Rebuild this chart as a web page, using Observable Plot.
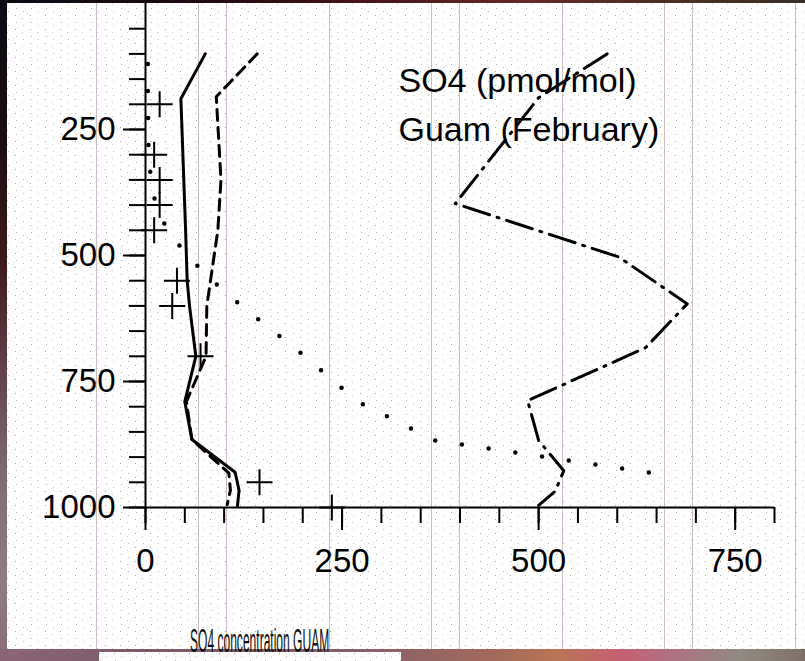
<!DOCTYPE html>
<html>
<head>
<meta charset="utf-8">
<script src="https://cdn.jsdelivr.net/npm/d3@7"></script>
<script src="https://cdn.jsdelivr.net/npm/@observablehq/plot@0.6"></script>
<style>
  html, body { margin: 0; padding: 0; background: #fff; }
  #frame {
    position: relative;
    width: 805px;
    height: 661px;
    overflow: hidden;
    background-color: #fff;
    font-family: "Liberation Sans", Arial, Helvetica, sans-serif;
  }
  .strip { position: absolute; }
  #stripTop {
    left: 0; top: 0; width: 805px; height: 3px;
    background: linear-gradient(to right, #0a0c14 0%, #1e0a10 25%, #461418 45%, #652a2a 65%, #4a3022 85%, #3a3028 100%);
  }
  #stripLeft {
    left: 0; top: 0; width: 7px; height: 661px;
    background: linear-gradient(to bottom, #0b0d14 0%, #1c0e12 22%, #3e1a1c 40%, #5e4048 55%, #7d6c72 72%, #8d7e84 88%, #8a6a78 100%);
  }
  #stripBottom {
    left: 0; top: 649px; width: 805px; height: 12px;
    background: linear-gradient(to right, #8b6576 0%, #7c5a6a 18%, #86606a 45%, #a46a5a 62%, #b87555 69%, #c65f70 77%, #b07082 83%, #918a82 92%, #7e7068 100%);
  }
  #patch { position: absolute; left: 99px; top: 652px; width: 302px; height: 9px; background-color: #fff; }
  #chart { position: absolute; left: 0; top: 0; }
  #caption {
    position: absolute;
    left: 190px;
    top: 624px;
    font-size: 33px;
    line-height: 33px;
    white-space: nowrap;
    color: #111;
    transform: scaleX(0.365);
    transform-origin: 0 0;
  }
</style>
</head>
<body>
<div id="frame">
  <div class="strip" id="stripTop"></div>
  <div class="strip" id="stripLeft"></div>
  <div class="strip" id="stripBottom"></div>
  <div id="patch"></div>
  <div id="chart"></div>
  <div id="caption">SO4 concentration GUAM</div>
</div>
<script>
// SO4 mixing ratio profiles over Guam in February (pmol/mol vs. pressure in hPa)
const solidP   = [100, 189, 450, 550, 600, 700, 790, 865, 930, 966, 996];
const solidV   = [76, 45, 51, 53, 56, 64, 50, 59, 114, 119, 117];

const dashedP  = [100, 185, 350, 450, 600, 700, 790, 865, 932, 966, 994];
const dashedV  = [142, 90, 96, 92, 78, 77, 52, 59, 106, 108, 104];

const dashDotP = [100, 187, 397, 503, 596, 683, 788, 867, 927, 968, 996];
const dashDotV = [587, 500, 394, 602, 689, 636, 486, 500, 532, 521, 500];

const dottedP  = [100, 190, 300, 350, 400, 450, 500, 550, 600, 690, 790, 867, 931];
const dottedV  = [3, 3, 4, 7, 13, 28, 53, 85, 122, 195, 270, 368, 643];

// Observations (crosses)
const obsP = [200, 300, 350, 400, 450, 550, 600, 700, 950, 1000];
const obsV = [18, 11, 18, 18, 11, 40, 34, 70, 145, 237];

// Axis ticks
const xMinorTicks = d3.range(0, 801, 50);
const xMajorTicks = [0, 250, 500, 750];
const yMinorTicks = d3.range(50, 1001, 50);
const yMajorTicks = [250, 500, 750, 1000];

const titleLines = ["SO4 (pmol/mol)", "Guam (February)"];

const rows = (P, V) => P.map((p, i) => ({p, v: V[i]}));

// "+" marker drawn as two strokes
const plusSymbol = {
  draw(context, size) {
    const r = Math.sqrt(size / Math.PI);
    context.moveTo(-r, 0); context.lineTo(r, 0);
    context.moveTo(0, -r); context.lineTo(0, r);
  }
};

// Speckled paper texture with faint vertical rules
const dotTile = "<svg xmlns='http://www.w3.org/2000/svg' width='15' height='14'>" +
  "<rect x='0' y='1' width='1' height='1' fill='#a4a4a4'/>" +
  "<rect x='1' y='8' width='1' height='1' fill='#b4b4b4'/>" +
  "<rect x='7' y='4' width='1' height='1' fill='#cacaca'/>" +
  "<rect x='8' y='11' width='1' height='1' fill='#c6bcbc'/>" +
  "</svg>";
const lineTile = "<svg xmlns='http://www.w3.org/2000/svg' width='233' height='10'>" +
  "<rect x='0' y='0' width='1' height='10' fill='#cdbdbd'/>" +
  "<rect x='102' y='0' width='1' height='10' fill='#cdbdbd'/>" +
  "<rect x='130' y='0' width='1' height='10' fill='#cdbdbd'/>" +
  "</svg>";
const uri = s => `url("data:image/svg+xml,${encodeURIComponent(s)}")`;
const frame = document.getElementById("frame");
frame.style.backgroundImage = `${uri(lineTile)}, ${uri(dotTile)}`;
frame.style.backgroundPosition = "96px 0, 0 0";
const patch = document.getElementById("patch");
patch.style.backgroundImage = uri(dotTile);

const plain = d => String(d);

const chart = Plot.plot({
  width: 805,
  height: 600,
  marginLeft: 145,
  marginRight: 31,
  marginTop: 3,
  marginBottom: 93,
  style: {
    background: "transparent",
    color: "black",
    fontFamily: "'Liberation Sans', Arial, Helvetica, sans-serif",
    overflow: "visible"
  },
  x: {domain: [0, 800], label: null},
  y: {domain: [0, 1000], reverse: true, label: null},
  marks: [
    Plot.text([titleLines.join("\n")], {
      text: d => d,
      frameAnchor: "top-left",
      dx: 253,
      dy: 54,
      lineAnchor: "top",
      textAnchor: "start",
      fontSize: 34,
      lineHeight: 1.44,
      fill: "black"
    }),
    Plot.line(rows(dottedP, dottedV), {
      x: "v", y: "p", stroke: "black", strokeWidth: 4.5,
      strokeLinecap: "round", strokeDasharray: "0 27", strokeDashoffset: 17
    }),
    Plot.line(rows(solidP, solidV), {x: "v", y: "p", stroke: "black", strokeWidth: 3}),
    Plot.line(rows(dashedP, dashedV), {
      x: "v", y: "p", stroke: "black", strokeWidth: 3, strokeDasharray: "11 7"
    }),
    Plot.line(rows(dashDotP, dashDotV), {
      x: "v", y: "p", stroke: "black", strokeWidth: 3, strokeDasharray: "27 8 2 8"
    }),
    Plot.dot(rows(obsP, obsV), {
      x: "v", y: "p", symbol: plusSymbol, r: 13,
      stroke: "black", strokeWidth: 2, fill: "none"
    }),
    Plot.ruleX([0], {stroke: "black", strokeWidth: 2}),
    Plot.ruleY([1000], {stroke: "black", strokeWidth: 2}),
    Plot.axisY(yMinorTicks, {tickSize: 16, strokeWidth: 2, fill: "none", label: null}),
    Plot.axisY(yMajorTicks, {
      tickSize: 22, tickPadding: 8, strokeWidth: 2, fontSize: 33, label: null,
      fill: "black", tickFormat: plain
    }),
    Plot.axisX(xMinorTicks, {tickSize: 16, strokeWidth: 2, fill: "none", label: null}),
    Plot.axisX(xMajorTicks, {
      tickSize: 23, tickPadding: 18, strokeWidth: 2, fontSize: 33, label: null,
      fill: "black", tickFormat: plain
    })
  ]
});
document.getElementById("chart").appendChild(chart);
</script>
</body>
</html>
